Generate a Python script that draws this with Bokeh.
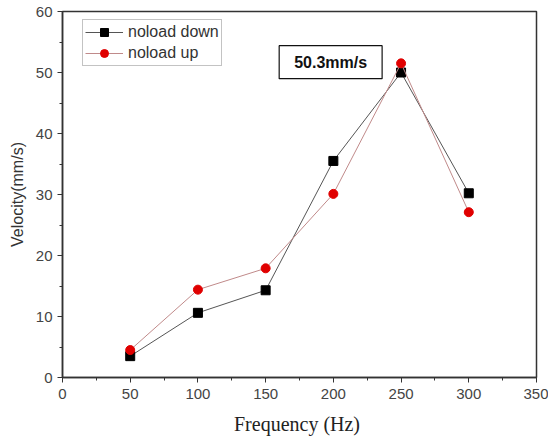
from bokeh.plotting import figure
from bokeh.models import Range1d, Legend, LegendItem, Label, FixedTicker
from bokeh.embed import file_html
from bokeh.resources import INLINE

freq = [50, 100, 150, 200, 250, 300]
noload_down = [3.5, 10.6, 14.3, 35.5, 50.0, 30.2]
noload_up = [4.5, 14.4, 17.9, 30.1, 51.5, 27.1]
x_ticks = [0, 50, 100, 150, 200, 250, 300, 350]
y_ticks = [0, 10, 20, 30, 40, 50, 60]
note_text = "50.3mm/s"
note_x = 198
note_y = 51.7

p = figure(width=548, height=437, output_backend="svg", toolbar_location=None,
           x_range=Range1d(0, 350), y_range=Range1d(0, 60),
           min_border_left=62, min_border_right=12, min_border_top=11, min_border_bottom=60)
p.xgrid.visible = False
p.ygrid.visible = False
p.outline_line_color = "#333333"
p.outline_line_width = 1.5
p.background_fill_color = "white"

for ax in (p.xaxis[0], p.yaxis[0]):
    ax.axis_line_color = "#333333"
    ax.axis_line_width = 1.5
    ax.major_tick_line_color = "#333333"
    ax.minor_tick_line_color = "#333333"
    ax.major_tick_in = 0
    ax.major_tick_out = 5
    ax.minor_tick_in = 0
    ax.minor_tick_out = 3
    ax.major_label_text_font = "Liberation Sans"
    ax.major_label_text_font_size = "15px"
    ax.major_label_text_color = "#444444"

p.xaxis.ticker = FixedTicker(ticks=x_ticks, minor_ticks=list(range(0, 351, 25)))
p.yaxis.ticker = FixedTicker(ticks=y_ticks, minor_ticks=list(range(0, 61, 5)))
p.xaxis.axis_label = "Frequency  (Hz)"
p.xaxis.axis_label_text_font = "Liberation Serif"
p.xaxis.axis_label_text_font_style = "normal"
p.xaxis.axis_label_text_font_size = "20px"
p.xaxis.axis_label_text_color = "#222222"
p.xaxis.axis_label_standoff = 11
p.xaxis.major_label_standoff = 6
p.yaxis.axis_label = "Velocity(mm/s)"
p.yaxis.axis_label_text_font = "Liberation Sans"
p.yaxis.axis_label_text_font_style = "normal"
p.yaxis.axis_label_text_font_size = "16px"
p.yaxis.axis_label_text_color = "#333333"
p.yaxis.axis_label_standoff = 7
p.yaxis.major_label_standoff = 5

l1 = p.line(freq, noload_down, line_color="#555555", line_width=1)
m1 = p.scatter(freq, noload_down, marker="square", size=9, fill_color="black", line_color="black")
l2 = p.line(freq, noload_up, line_color="#c08a8a", line_width=1)
m2 = p.scatter(freq, noload_up, marker="circle", size=9, fill_color="#e00000", line_color="#e00000")

legend = Legend(items=[LegendItem(label="noload down", renderers=[l1, m1]),
                       LegendItem(label="noload up", renderers=[l2, m2])],
                location=(20, 311), label_text_font="Liberation Sans",
                label_text_font_size="16px", label_text_color="#333333",
                glyph_width=38, glyph_height=20, label_height=20, spacing=1,
                padding=2, margin=0, border_line_color="#888888", border_line_width=1,
                label_standoff=5)
p.add_layout(legend)

note = Label(x=note_x, y=note_y, text=note_text, text_align="center", text_baseline="middle",
             text_font="Liberation Sans", text_font_style="bold", text_font_size="16px",
             text_color="#111111", border_line_color="#111111", border_line_width=1.2,
             background_fill_color="white", padding=(15, 8))
p.add_layout(note)

open("out.html", "w").write(file_html(p, INLINE))
